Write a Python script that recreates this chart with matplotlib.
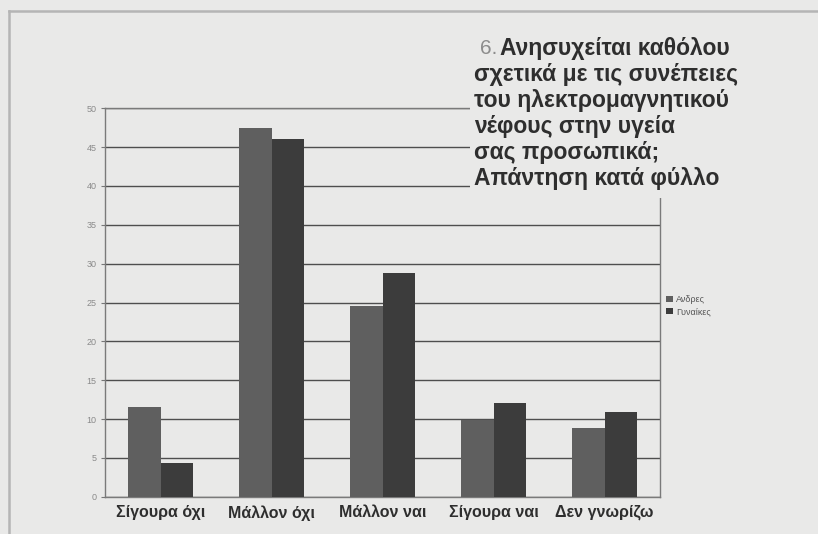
import matplotlib
matplotlib.use("Agg")
import matplotlib.pyplot as plt
import numpy as np
from matplotlib.lines import Line2D

categories = ["Σίγουρα όχι", "Μάλλον όχι", "Μάλλον ναι", "Σίγουρα ναι", "Δεν γνωρίζω"]
men = [11.6, 47.5, 24.5, 9.9, 8.8]
women = [4.3, 46.0, 28.8, 12.1, 10.9]
series_names = ["Ανδρες", "Γυναίκες"]
yticks = [0, 5, 10, 15, 20, 25, 30, 35, 40, 45, 50]

paper = "#e9e9e8"
plot_bg = paper
men_color = "#5f5f5f"
women_color = "#3c3c3c"

plt.rcParams['font.family'] = ['Liberation Sans', 'DejaVu Sans']

fig = plt.figure(figsize=(8.18, 5.34), dpi=100)
fig.patch.set_facecolor(paper)

ax = fig.add_axes([105/818, 37.3/534, 555/818, 388.4/534])
ax.set_facecolor(plot_bg)

x = np.arange(len(categories))
w = 0.29
ax.bar(x - w/2, men, width=w, color=men_color, zorder=3, label=series_names[0])
ax.bar(x + w/2, women, width=w, color=women_color, zorder=3, label=series_names[1])

ax.set_xlim(-0.5, len(categories) - 0.5)
ax.set_ylim(0, 50)
ax.set_yticks(yticks)
ax.set_yticklabels([str(v) for v in yticks], fontsize=6.5, color="#8a8a8a")
ax.set_xticks(x)
ax.set_xticklabels(categories, fontsize=11.5, fontweight="bold", color="#2e2e2e")
ax.tick_params(axis="x", length=0, pad=6)
ax.tick_params(axis="y", length=3, color="#777777", pad=3)
ax.yaxis.grid(True, color="#4e4e4e", linewidth=1.0, zorder=1)
ax.set_axisbelow(True)
for s in ax.spines.values():
    s.set_color("#7a7a7a")
    s.set_linewidth(1.0)

# legend
leg = ax.legend(loc="upper left", bbox_to_anchor=(1.0, 0.535), frameon=False,
                fontsize=6.5, handlelength=0.7, handleheight=0.7,
                handletextpad=0.4, labelspacing=0.35, borderaxespad=0.3)
for t in leg.get_texts():
    t.set_color("#555555")

# title block over the chart (covers grid lines)
fig.patches.append(plt.Rectangle((470/818, 1 - 198/534), 340/818, 170/534,
                                 transform=fig.transFigure, facecolor=paper,
                                 edgecolor="none", zorder=5))
title_lines = ["σχετικά με τις συνέπειες",
               "του ηλεκτρομαγνητικού",
               "νέφους στην υγεία",
               "σας προσωπικά;",
               "Απάντηση κατά φύλλο"]
fs = 16.5
fig.text(480/818, 1 - 48/534, "6.", fontsize=15, color="#8c8c8c",
         va="center", ha="left", zorder=6)
fig.text(500/818, 1 - 48/534, "Ανησυχείται καθόλου", fontsize=fs,
         fontweight="bold", color="#2e2e2e", va="center", ha="left", zorder=6)
for i, line in enumerate(title_lines):
    fig.text(474/818, 1 - (74.5 + 26 * i)/534, line, fontsize=fs,
             fontweight="bold", color="#2e2e2e", va="center", ha="left", zorder=6)

# outer frame of the scanned page
fig.add_artist(Line2D([9/818, 9/818], [0, 1 - 11/534], transform=fig.transFigure,
                      color="#b5b5b5", linewidth=1.8))
fig.add_artist(Line2D([9/818, 1], [1 - 11/534, 1 - 11/534], transform=fig.transFigure,
                      color="#b5b5b5", linewidth=1.8))

fig.savefig("out.png", dpi=100, facecolor=paper)
